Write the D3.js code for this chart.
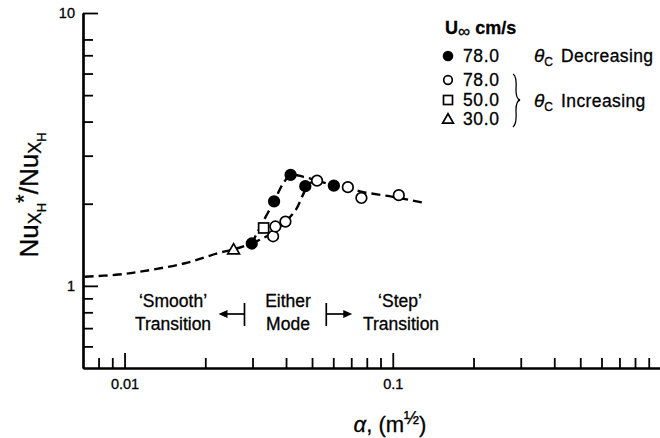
<!DOCTYPE html>
<html>
<head>
<meta charset="utf-8">
<script src="https://cdn.jsdelivr.net/npm/d3@7"></script>
<style>
  body { margin: 0; background: #fff; }
  svg { font-family: "Liberation Sans", Arial, Helvetica, sans-serif; }
  svg text { stroke: #000; stroke-width: 0.3px; }
</style>
</head>
<body>
<div id="graph"></div>
<script>
// data (alpha in m^1/2, Nu ratio)
let filled78 = [[0.0298, 1.43], [0.0361, 2.04], [0.0416, 2.55], [0.0472, 2.32], [0.0603, 2.33]];
let open78 = [[0.0358, 1.52], [0.0365, 1.65], [0.0398, 1.72], [0.0522, 2.43], [0.068, 2.30], [0.0764, 2.10], [0.1053, 2.15]];
let square50 = [[0.033, 1.63]];
let triangle30 = [[0.0255, 1.36]];

let baseCurve = [[0.0071, 1.08], [0.0095, 1.10], [0.0116, 1.13], [0.0168, 1.21], [0.0224, 1.32], [0.0255, 1.36], [0.0298, 1.43]];
let upperBranch = [[0.0298, 1.43], [0.0322, 1.66], [0.0361, 2.04], [0.0389, 2.36], [0.0416, 2.55], [0.0465, 2.51], [0.0522, 2.43]];
let lowerBranch = [[0.0298, 1.43], [0.0351, 1.55], [0.0398, 1.72], [0.0435, 1.90], [0.0462, 2.15], [0.0485, 2.36], [0.0522, 2.43]];
let tailCurve = [[0.0522, 2.43], [0.0603, 2.34], [0.068, 2.29], [0.077, 2.21], [0.1, 2.12], [0.133, 2.01]];

let xMajor = [0.01, 0.1];
let xMinor = [0.008, 0.009, 0.02, 0.03, 0.04, 0.05, 0.06, 0.07, 0.08, 0.09, 0.2, 0.3, 0.4, 0.5, 0.6, 0.7, 0.8, 0.9];
let yMajor = [1, 10];
let yMinor = [0.6, 0.7, 0.8, 0.9, 2, 3, 4, 5, 6, 7, 8];
let legendRows = ["78.0", "78.0", "50.0", "30.0"];
let modeBounds = [0.028, 0.0565];

var svg = d3.select("#graph").append("svg")
  .attr("width", 660)
  .attr("height", 438);

var x = d3.scaleLog().domain([0.007, 1]).range([83, 661]);
var y = d3.scaleLog().domain([0.5, 10]).range([368, 13]);

// axes, ticks pointing inward
function styleAxis(g) {
  g.select(".domain").attr("stroke", "#000").attr("stroke-width", 2.2);
  g.selectAll(".tick line").attr("stroke", "#000").attr("stroke-width", 1.8);
  g.selectAll(".tick text").attr("fill", "#000").style("font-size", "14.5px");
}

svg.append("g")
  .attr("transform", "translate(0,368)")
  .call(d3.axisBottom(x).tickValues(xMinor).tickSize(-10).tickSizeOuter(0).tickFormat(""))
  .call(styleAxis);
svg.append("g")
  .attr("transform", "translate(0,368)")
  .call(d3.axisBottom(x).tickValues(xMajor).tickSize(-15).tickSizeOuter(0).tickPadding(11).tickFormat(d3.format("")))
  .call(styleAxis);

svg.append("g")
  .attr("transform", "translate(83,0)")
  .call(d3.axisLeft(y).tickValues(yMinor).tickSize(-10).tickSizeOuter(0).tickFormat(""))
  .call(styleAxis);
svg.append("g")
  .attr("transform", "translate(83,0)")
  .call(d3.axisLeft(y).tickValues(yMajor).tickSize(-15).tickSizeOuter(0).tickPadding(8).tickFormat(d3.format("")))
  .call(styleAxis);

// dashed fitted curves
var drawLine = d3.line()
  .x(d => x(d[0]))
  .y(d => y(d[1]))
  .curve(d3.curveCatmullRom.alpha(0.5));

[baseCurve, upperBranch, lowerBranch, tailCurve].forEach(function (c) {
  svg.append("path")
    .attr("d", drawLine(c))
    .attr("fill", "none")
    .attr("stroke", "#000")
    .attr("stroke-width", 2.4)
    .attr("stroke-dasharray", "9,5");
});

// markers
function circles(data, fill) {
  svg.append("g").selectAll("circle").data(data).join("circle")
    .attr("cx", d => x(d[0]))
    .attr("cy", d => y(d[1]))
    .attr("r", 5.3)
    .attr("fill", fill)
    .attr("stroke", "#000")
    .attr("stroke-width", 1.7);
}
circles(open78, "#fff");
circles(filled78, "#000");

svg.append("g").selectAll("rect").data(square50).join("rect")
  .attr("x", d => x(d[0]) - 5)
  .attr("y", d => y(d[1]) - 5)
  .attr("width", 10).attr("height", 10)
  .attr("fill", "#fff").attr("stroke", "#000").attr("stroke-width", 1.7);

var tri = d3.symbol().type(d3.symbolTriangle).size(60);
svg.append("g").selectAll("path").data(triangle30).join("path")
  .attr("d", tri)
  .attr("transform", d => `translate(${x(d[0])},${y(d[1]) + 1})`)
  .attr("fill", "#fff").attr("stroke", "#000").attr("stroke-width", 1.7);

// axis titles
var ylab = svg.append("text")
  .attr("transform", "translate(38,195) rotate(-90)")
  .attr("text-anchor", "middle")
  .style("font-size", "26px");
ylab.append("tspan").text("Nu");
ylab.append("tspan").attr("dy", 3).style("font-size", "18px").text("X");
ylab.append("tspan").attr("dy", 5).style("font-size", "13px").text("H");
ylab.append("tspan").attr("dy", -15).style("font-size", "22px").text("*");
ylab.append("tspan").attr("dy", 7).text("/Nu");
ylab.append("tspan").attr("dy", 3).style("font-size", "18px").text("X");
ylab.append("tspan").attr("dy", 5).style("font-size", "13px").text("H");

var xlab = svg.append("text")
  .attr("x", 390).attr("y", 432)
  .attr("text-anchor", "middle")
  .style("font-size", "22px");
xlab.append("tspan").style("font-style", "italic").text("α");
xlab.append("tspan").text(", (m");
xlab.append("tspan").attr("dy", -8).style("font-size", "18px").text("½");
xlab.append("tspan").attr("dy", 8).text(")");

// legend
var lg = svg.append("g").style("font-size", "17.5px");
var hdr = lg.append("text").attr("x", 445).attr("y", 34).style("font-weight", "bold").style("font-size", "18px");
hdr.append("tspan").text("U");
hdr.append("tspan").attr("dy", 3).style("font-size", "17px").style("font-weight", "normal").text("∞");
hdr.append("tspan").attr("dy", -3).text(" cm/s");

lg.append("circle").attr("cx", 448).attr("cy", 56).attr("r", 5.3).attr("fill", "#000");
lg.append("circle").attr("cx", 448).attr("cy", 80).attr("r", 4.3).attr("fill", "#fff").attr("stroke", "#000").attr("stroke-width", 1.7);
lg.append("rect").attr("x", 443.5).attr("y", 95.5).attr("width", 9).attr("height", 9).attr("fill", "#fff").attr("stroke", "#000").attr("stroke-width", 1.7);
lg.append("path").attr("d", d3.symbol().type(d3.symbolTriangle).size(50)).attr("transform", "translate(448,120)")
  .attr("fill", "#fff").attr("stroke", "#000").attr("stroke-width", 1.7);

let rowY = [62, 86, 106, 125];
legendRows.forEach(function (v, i) {
  lg.append("text").attr("x", 463).attr("y", rowY[i]).style("letter-spacing", "0.6px").text(v);
});

function thetaLabel(yy, word) {
  var t = lg.append("text").attr("x", 534).attr("y", yy);
  t.append("tspan").style("font-style", "italic").style("font-size", "19px").text("θ");
  t.append("tspan").attr("dy", 4).style("font-size", "12px").text("C");
  t.append("tspan").attr("dy", -4).attr("dx", 8).style("letter-spacing", "0.4px").text(word);
}
thetaLabel(62, "Decreasing");
thetaLabel(107, "Increasing");

lg.append("path")
  .attr("d", "M513,74 Q517,76 516,90 Q516,99 520,100 Q516,101 516,110 Q517,124 513,127")
  .attr("fill", "none").attr("stroke", "#000").attr("stroke-width", 1.3);

// mode annotations
var ann = svg.append("g").style("font-size", "17.5px").attr("text-anchor", "middle");
ann.append("text").attr("x", 173).attr("y", 307).text("‘Smooth’");
ann.append("text").attr("x", 173).attr("y", 330).text("Transition");
ann.append("text").attr("x", 288).attr("y", 307).text("Either");
ann.append("text").attr("x", 288).attr("y", 330).text("Mode");
ann.append("text").attr("x", 400).attr("y", 307).text("‘Step’");
ann.append("text").attr("x", 401).attr("y", 330).text("Transition");

var bl = x(modeBounds[0]), br = x(modeBounds[1]);
var arr = svg.append("g").attr("stroke", "#000").attr("stroke-width", 1.7);
arr.append("line").attr("x1", bl).attr("x2", bl).attr("y1", 303).attr("y2", 326);
arr.append("line").attr("x1", bl).attr("x2", bl - 19).attr("y1", 314).attr("y2", 314);
arr.append("line").attr("x1", br).attr("x2", br).attr("y1", 303).attr("y2", 326);
arr.append("line").attr("x1", br).attr("x2", br + 19).attr("y1", 314).attr("y2", 314);
svg.append("path").attr("d", `M${bl - 26},314 L${bl - 17},310 L${bl - 17},318 Z`).attr("fill", "#000");
svg.append("path").attr("d", `M${br + 26},314 L${br + 17},310 L${br + 17},318 Z`).attr("fill", "#000");
</script>
</body>
</html>
